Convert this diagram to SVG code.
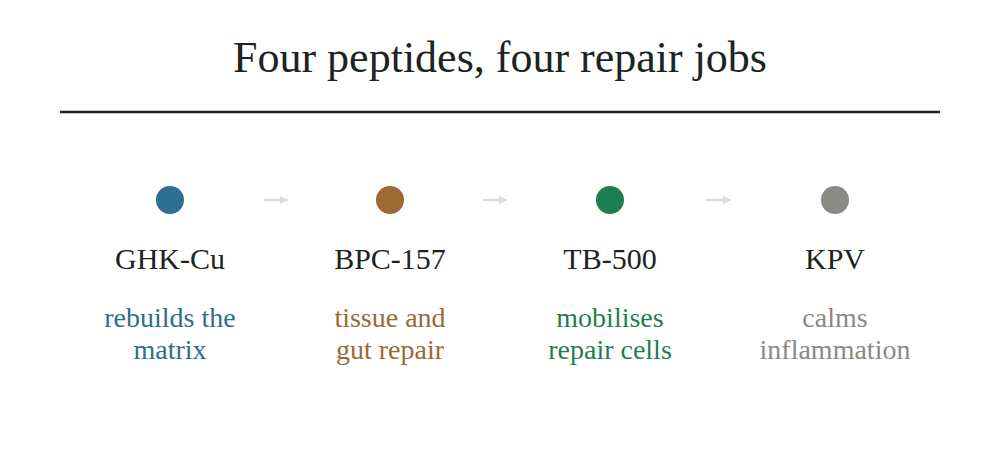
<svg xmlns="http://www.w3.org/2000/svg" width="1000" height="470" viewBox="0 0 1000 470">
<style>
text{font-family:"Liberation Serif","DejaVu Serif",serif;text-anchor:middle}
.title{font-size:44px;fill:#1b2421}
.name{font-size:30px;fill:#1b2421}
.desc{font-size:28px}
.conn{stroke:#dcdcd8;stroke-width:2.2;fill:none}
</style>
<defs>
<marker id="ah" viewBox="0 0 10 10" refX="10" refY="5" markerWidth="8" markerHeight="8" markerUnits="userSpaceOnUse" orient="auto">
<path d="M0,0 L10,5 L0,10 Z" fill="#dcdcd8"/>
</marker>
</defs>
<rect width="1000" height="470" fill="#ffffff"/>
<g id="title">
<text class="title" x="500" y="72">Four peptides, four repair jobs</text>
<line x1="60" y1="112" x2="940" y2="112" stroke="#1b2421" stroke-width="2.5"/>
</g>
<g id="connectors">
<line class="conn" x1="264" y1="200" x2="288" y2="200" marker-end="url(#ah)"/>
<line class="conn" x1="483" y1="200" x2="507" y2="200" marker-end="url(#ah)"/>
<line class="conn" x1="706" y1="200" x2="731" y2="200" marker-end="url(#ah)"/>
</g>
<g id="ghk">
<circle cx="170" cy="200" r="14" fill="#2e6e8e"/>
<text class="name" x="170" y="269">GHK-Cu</text>
<text class="desc" x="170" y="327" fill="#2e6e8e">rebuilds the</text>
<text class="desc" x="170" y="359" fill="#2e6e8e">matrix</text>
</g>
<g id="bpc">
<circle cx="390" cy="200" r="14" fill="#9b6a32"/>
<text class="name" x="390" y="269">BPC-157</text>
<text class="desc" x="390" y="327" fill="#9b6a32">tissue and</text>
<text class="desc" x="390" y="359" fill="#9b6a32">gut repair</text>
</g>
<g id="tb">
<circle cx="610" cy="200" r="14" fill="#1d7f4f"/>
<text class="name" x="610" y="269">TB-500</text>
<text class="desc" x="610" y="327" fill="#1d7f4f">mobilises</text>
<text class="desc" x="610" y="359" fill="#1d7f4f">repair cells</text>
</g>
<g id="kpv">
<circle cx="835" cy="200" r="14" fill="#8a8a85"/>
<text class="name" x="835" y="269">KPV</text>
<text class="desc" x="835" y="327" fill="#8a8a85">calms</text>
<text class="desc" x="835" y="359" fill="#8a8a85">inflammation</text>
</g>
</svg>
